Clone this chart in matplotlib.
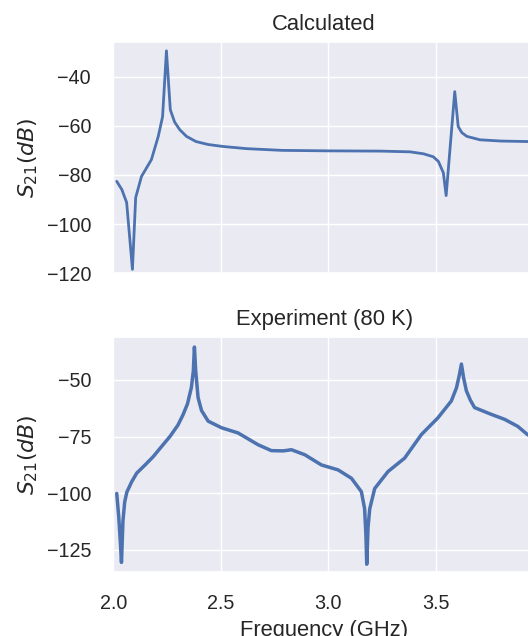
import matplotlib.pyplot as plt
import seaborn as sns

# Calculated S21
freq_calc = [2.016, 2.04, 2.062, 2.089, 2.104, 2.131, 2.177, 2.209, 2.229, 2.247, 2.265,
             2.285, 2.309, 2.34, 2.384, 2.44, 2.508, 2.62, 2.784, 3.0, 3.244, 3.38,
             3.442, 3.487, 3.511, 3.534, 3.547, 3.587, 3.603, 3.62, 3.643, 3.704,
             3.8, 3.919, 3.96]
s21_calc = [-82.6, -86.0, -91.2, -118.4, -89.2, -80.6, -73.8, -64.3, -56.3, -29.5, -53.5,
            -58.5, -61.6, -64.3, -66.4, -67.6, -68.4, -69.3, -70.0, -70.2, -70.3, -70.6,
            -71.4, -72.6, -74.5, -79.1, -88.4, -46.1, -60.3, -62.8, -64.3, -65.7,
            -66.2, -66.4, -66.4]

# Experiment at 80 K
freq_exp = [2.016, 2.025, 2.033, 2.038, 2.045, 2.053, 2.063, 2.085, 2.109, 2.15, 2.186,
            2.225, 2.263, 2.3, 2.324, 2.345, 2.363, 2.372, 2.377, 2.383, 2.394, 2.41,
            2.441, 2.503, 2.58, 2.673, 2.735, 2.79, 2.828, 2.89, 2.967, 3.045, 3.107,
            3.153, 3.168, 3.174, 3.178, 3.184, 3.192, 3.215, 3.277, 3.354, 3.432,
            3.509, 3.571, 3.595, 3.608, 3.618, 3.628, 3.641, 3.66, 3.679, 3.757,
            3.819, 3.88, 3.925, 3.96]
s21_exp = [-100.1, -110.0, -122.0, -130.5, -112.0, -103.8, -99.5, -95.0, -91.1, -87.3, -83.8,
           -79.3, -75.0, -70.0, -65.4, -60.5, -53.3, -46.0, -35.5, -46.0, -57.8, -63.5,
           -68.2, -71.1, -73.4, -78.6, -81.2, -81.3, -80.8, -83.0, -87.5, -89.7, -93.4,
           -99.3, -106.8, -118.0, -131.3, -115.0, -106.8, -97.9, -90.4, -84.5, -74.1,
           -66.7, -59.3, -53.5, -48.0, -43.0, -49.0, -54.8, -59.0, -62.2, -65.2,
           -67.4, -70.5, -74.1, -76.0]

sns.set_theme(style='darkgrid')
plt.rcParams['font.family'] = ['Liberation Sans', 'DejaVu Sans']

fig = plt.figure(figsize=(5.28, 6.36), dpi=100)
left, width = 113.3 / 528, (535 - 113.3) / 528
ax1 = fig.add_axes([left, (636 - 273.3) / 636, width, (273.3 - 41.7) / 636])
ax2 = fig.add_axes([left, (636 - 571.7) / 636, width, (571.7 - 337.3) / 636])

ax1.plot(freq_calc, s21_calc, color='#4c72b0', lw=2.0)
ax1.set_ylim(-120, -25.8)
ax1.set_yticks([-120, -100, -80, -60, -40])
ax1.set_xticklabels([])
ax1.set_title('Calculated', fontsize=15.8, pad=8.5)

ax2.plot(freq_exp, s21_exp, color='#4c72b0', lw=2.5)
ax2.set_ylim(-134.6, -31.2)
ax2.set_yticks([-125, -100, -75, -50])
ax2.set_title('Experiment (80 K)', fontsize=15.8, pad=8.5)
ax2.set_xlabel('Frequency (GHz)', fontsize=15.8, labelpad=5)

for ax in (ax1, ax2):
    ax.set_xlim(2.015, 3.96)
    ax.set_xticks([2.0, 2.5, 3.0, 3.5])
    ax.set_ylabel('$S_{21}(dB)$', fontsize=15.8)
    ax.yaxis.set_label_coords(-0.175, 0.5)
    ax.tick_params(labelsize=14.2, pad=10)

ax2.set_xticklabels(['2.0', '2.5', '3.0', '3.5'])

fig.savefig('out.png', dpi=100)
